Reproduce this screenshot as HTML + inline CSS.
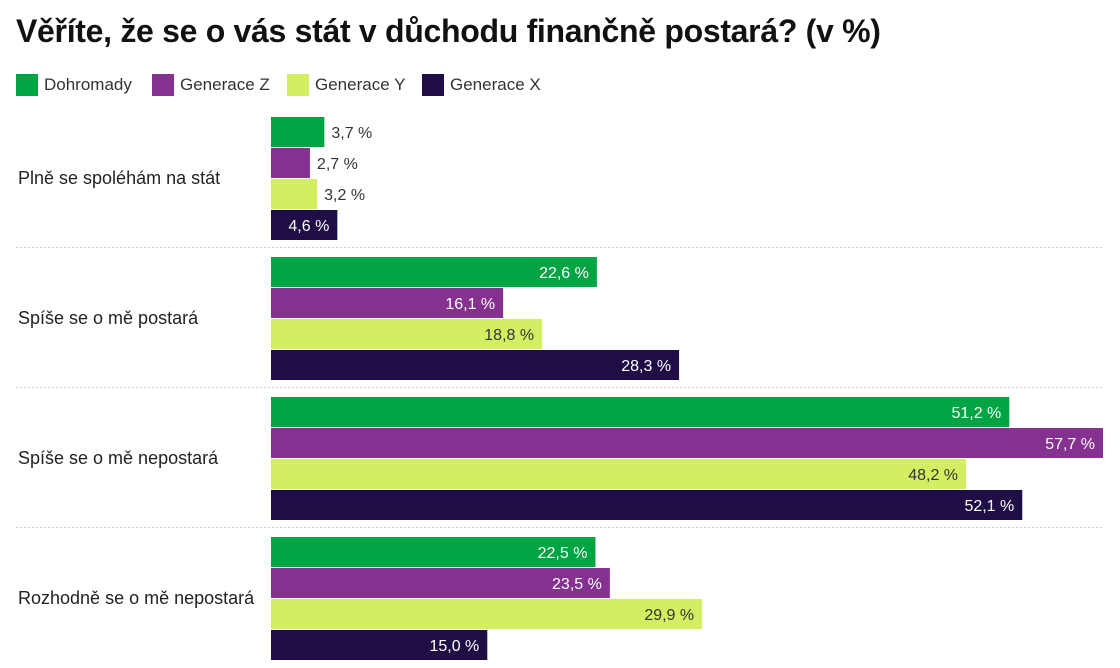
<!DOCTYPE html>
<html><head><meta charset="utf-8">
<style>
body{margin:0;background:#fff;font-family:"Liberation Sans",sans-serif;}
#wrap{position:relative;width:1120px;height:668px;overflow:hidden;}
h1{position:absolute;left:16px;top:13px;margin:0;font-size:32px;font-weight:bold;color:#111;letter-spacing:-0.3px}
.leg{position:absolute;top:74px;display:flex;align-items:center;font-size:17px;color:#333}
.sw{width:22px;height:22px;margin-right:6px}
</style></head><body>
<div id="wrap">
<h1>Věříte, že se o vás stát v důchodu finančně postará? (v %)</h1>
<div class="leg" style="left:16px"><div class="sw" style="background:#00a443"></div>Dohromady</div>
<div class="leg" style="left:152px"><div class="sw" style="background:#84318f"></div>Generace Z</div>
<div class="leg" style="left:287px"><div class="sw" style="background:#d4ee63"></div>Generace Y</div>
<div class="leg" style="left:422px"><div class="sw" style="background:#1f0d45"></div>Generace X</div>
<svg id="svg" width="1120" height="668" style="position:absolute;left:0;top:0"></svg>
</div>
<script>
const categories=["Plně se spoléhám na stát","Spíše se o mě postará","Spíše se o mě nepostará","Rozhodně se o mě nepostará"];
const seriesNames=["Dohromady","Generace Z","Generace Y","Generace X"];
const dohromady=[3.7,22.6,51.2,22.5];
const generaceZ=[2.7,16.1,57.7,23.5];
const generaceY=[3.2,18.8,48.2,29.9];
const generaceX=[4.6,28.3,52.1,15.0];
const series=[dohromady,generaceZ,generaceY,generaceX];
const colors=["#00a443","#84318f","#d4ee63","#1f0d45"];
const txtIn=["#fff","#fff","#333","#fff"];
const NS="http://www.w3.org/2000/svg";
const svg=document.getElementById('svg');
const x0=271, scale=(1103-271)/57.7;
const xs=v=>v*scale;
const groupTop=i=>117+i*140;
function mk(t,a){const e=document.createElementNS(NS,t);for(const k in a)e.setAttribute(k,a[k]);svg.appendChild(e);return e;}
categories.forEach((c,i)=>{
  const gt=groupTop(i);
  if(i>0){const l=mk('line',{x1:16,x2:1104,y1:gt-9.5,y2:gt-9.5,stroke:'#ccc','stroke-dasharray':'2,2'});
  
  }
  const t=mk('text',{x:18,y:gt+61+6,'font-size':18,fill:'#222'});t.textContent=c;
  
  
  series.forEach((s,j)=>{
    const y=gt+j*31, w=xs(s[i]);
    const r=mk('rect',{x:x0,y:y,width:w,height:30,fill:colors[j]});
    
    
    const lab=s[i].toFixed(1).replace('.',',')+' %';
    const inside=w>60;
    const tx=mk('text',{x:inside?x0+w-8:x0+w+7,y:y+21,'font-size':16,'text-anchor':inside?'end':'start',fill:inside?txtIn[j]:'#333'});
    tx.textContent=lab;
    
    
  });
});
</script>
</body></html>
